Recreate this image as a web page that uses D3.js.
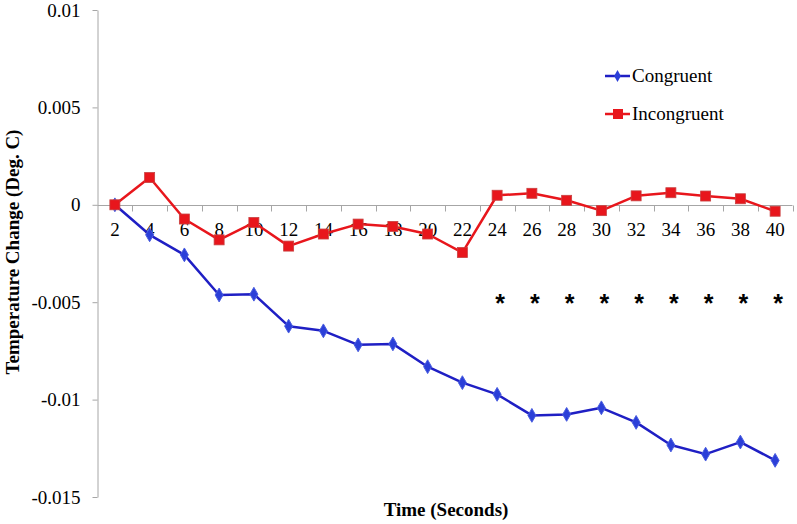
<!DOCTYPE html>
<html>
<head>
<meta charset="utf-8">
<script src="https://cdn.jsdelivr.net/npm/d3@7"></script>
<style>
  html, body { margin: 0; padding: 0; background: #fff; }
  svg { display: block; }
  .serif { font-family: "Liberation Serif", "Times New Roman", serif; }
</style>
</head>
<body>
<svg id="chart" width="797" height="524"></svg>
<script>
const categories = ["2","4","6","8","10","12","14","16","18","20","22","24","26","28","30","32","34","36","38","40"];
const congruent = [0, -0.00154, -0.00257, -0.00463, -0.00459, -0.00623, -0.00647, -0.00719, -0.00714, -0.00831,
                   -0.00913, -0.00973, -0.01081, -0.01076, -0.01042, -0.01117, -0.01233, -0.0128, -0.01218, -0.01312];
const incongruent = [0, 0.0014, -0.00073, -0.0018, -0.00091, -0.00212, -0.0015, -0.00099, -0.00111, -0.0015,
                     -0.00245, 0.00049, 0.00059, 0.00023, -0.0003, 0.00046, 0.00062, 0.00045, 0.00031, -0.00033];
const yTicks = [0.01, 0.005, 0, -0.005, -0.01, -0.015];
const yTickLabels = ["0.01", "0.005", "0", "-0.005", "-0.01", "-0.015"];
const significant = ["24","26","28","30","32","34","36","38","40"];
const seriesNames = ["Congruent", "Incongruent"];

(function () {
const svg = d3.select("#chart");
const font = "Liberation Serif, Times New Roman, serif";
const axisColor = "#a6a6a6";
const blue = "#1f1fc4";
const blueMarker = "#2b3fd8";
const red = "#e8161c";

const pLeft = 97.5, pRight = 792.5, pTop = 10, pBottom = 497;

const x = d3.scaleBand().domain(categories).range([pLeft, pRight]).padding(0);
const y = d3.scaleLinear().domain([-0.015, 0.01]).range([pBottom, pTop]);

// Y axis
const yAxis = d3.axisLeft(y).tickValues(yTicks)
  .tickFormat((d, i) => yTickLabels[i]).tickSizeOuter(0).tickSizeInner(5).tickPadding(12);
const gy = svg.append("g").attr("transform", `translate(${pLeft},0)`).call(yAxis)
  .attr("font-family", null).attr("font-size", null).attr("class", "serif");
gy.select(".domain").attr("stroke", axisColor);
gy.selectAll(".tick line").attr("stroke", axisColor);
gy.selectAll(".tick text").style("font-family", font).style("font-size", "19px").attr("fill", "#000");

// X axis at zero (ticks at category boundaries)
const y0 = Math.round(y(0)) + 0.5;
svg.append("line").attr("x1", pLeft).attr("x2", pRight).attr("y1", y0).attr("y2", y0).attr("stroke", axisColor);
const bounds = categories.map(c => x(c)).concat([x(categories[categories.length - 1]) + x.bandwidth()]);
svg.append("g").selectAll("line").data(bounds.slice(1)).join("line")
  .attr("x1", d => Math.round(d) + 0.5).attr("x2", d => Math.round(d) + 0.5)
  .attr("y1", y0).attr("y2", y0 + 6).attr("stroke", axisColor);
svg.append("g").selectAll("text").data(categories).join("text")
  .attr("x", d => x(d) + x.bandwidth() / 2)
  .attr("y", y0 + 30)
  .attr("text-anchor", "middle")
  .style("font-family", font).style("font-size", "19px").attr("fill", "#000")
  .text(d => d);

// Lines
const line = d3.line().x((d, i) => x(categories[i]) + x.bandwidth() / 2).y(d => y(d));
svg.append("path").datum(incongruent).attr("d", line)
  .attr("fill", "none").attr("stroke", red).attr("stroke-width", 2.5).attr("stroke-linejoin", "round");
svg.append("path").datum(congruent).attr("d", line)
  .attr("fill", "none").attr("stroke", blue).attr("stroke-width", 2.5).attr("stroke-linejoin", "round");

// Blue diamond markers
const diamond = d3.symbol().type(d3.symbolDiamond).size(55);
svg.append("g").selectAll("path").data(congruent).join("path")
  .attr("transform", (d, i) => `translate(${x(categories[i]) + x.bandwidth() / 2},${y(d)})`)
  .attr("d", diamond).attr("fill", blueMarker).attr("stroke", "#4a5ee0").attr("stroke-width", 1);

// Red square markers
const sq = 10;
svg.append("g").selectAll("rect").data(incongruent).join("rect")
  .attr("x", (d, i) => x(categories[i]) + x.bandwidth() / 2 - sq / 2)
  .attr("y", d => y(d) - sq / 2)
  .attr("width", sq).attr("height", sq)
  .attr("fill", red).attr("stroke", "#c84040").attr("stroke-width", 0.8);

// Asterisks
svg.append("g").selectAll("text").data(significant).join("text")
  .attr("x", d => x(d) + x.bandwidth() / 2 + 3)
  .attr("y", 312)
  .attr("text-anchor", "middle")
  .style("font-family", "Liberation Sans, Arial, sans-serif").style("font-size", "25px")
  .style("font-weight", "bold").attr("fill", "#000")
  .text("*");

// Legend
const legend = svg.append("g");
const legY = [76, 114];
seriesNames.forEach((name, i) => {
  const col = i === 0 ? blue : red;
  legend.append("line").attr("x1", 605).attr("x2", 630).attr("y1", legY[i]).attr("y2", legY[i])
    .attr("stroke", col).attr("stroke-width", 2.5);
  if (i === 0) {
    legend.append("path").attr("transform", `translate(617.5,${legY[i]})`)
      .attr("d", d3.symbol().type(d3.symbolDiamond).size(40)).attr("fill", blueMarker);
  } else {
    legend.append("rect").attr("x", 613).attr("y", legY[i] - 5).attr("width", 10).attr("height", 10).attr("fill", red);
  }
  legend.append("text").attr("x", 632).attr("y", legY[i] + 6)
    .style("font-family", font).style("font-size", "19px").attr("fill", "#000").text(name);
});

// Axis titles
svg.append("text").attr("x", 446).attr("y", 516).attr("text-anchor", "middle")
  .style("font-family", font).style("font-size", "19px").style("font-weight", "bold").text("Time (Seconds)");
svg.append("text").attr("transform", "translate(19,252) rotate(-90)").attr("text-anchor", "middle")
  .style("font-family", font).style("font-size", "19px").style("font-weight", "bold").text("Temperature Change (Deg. C)");
})();
</script>
</body>
</html>
